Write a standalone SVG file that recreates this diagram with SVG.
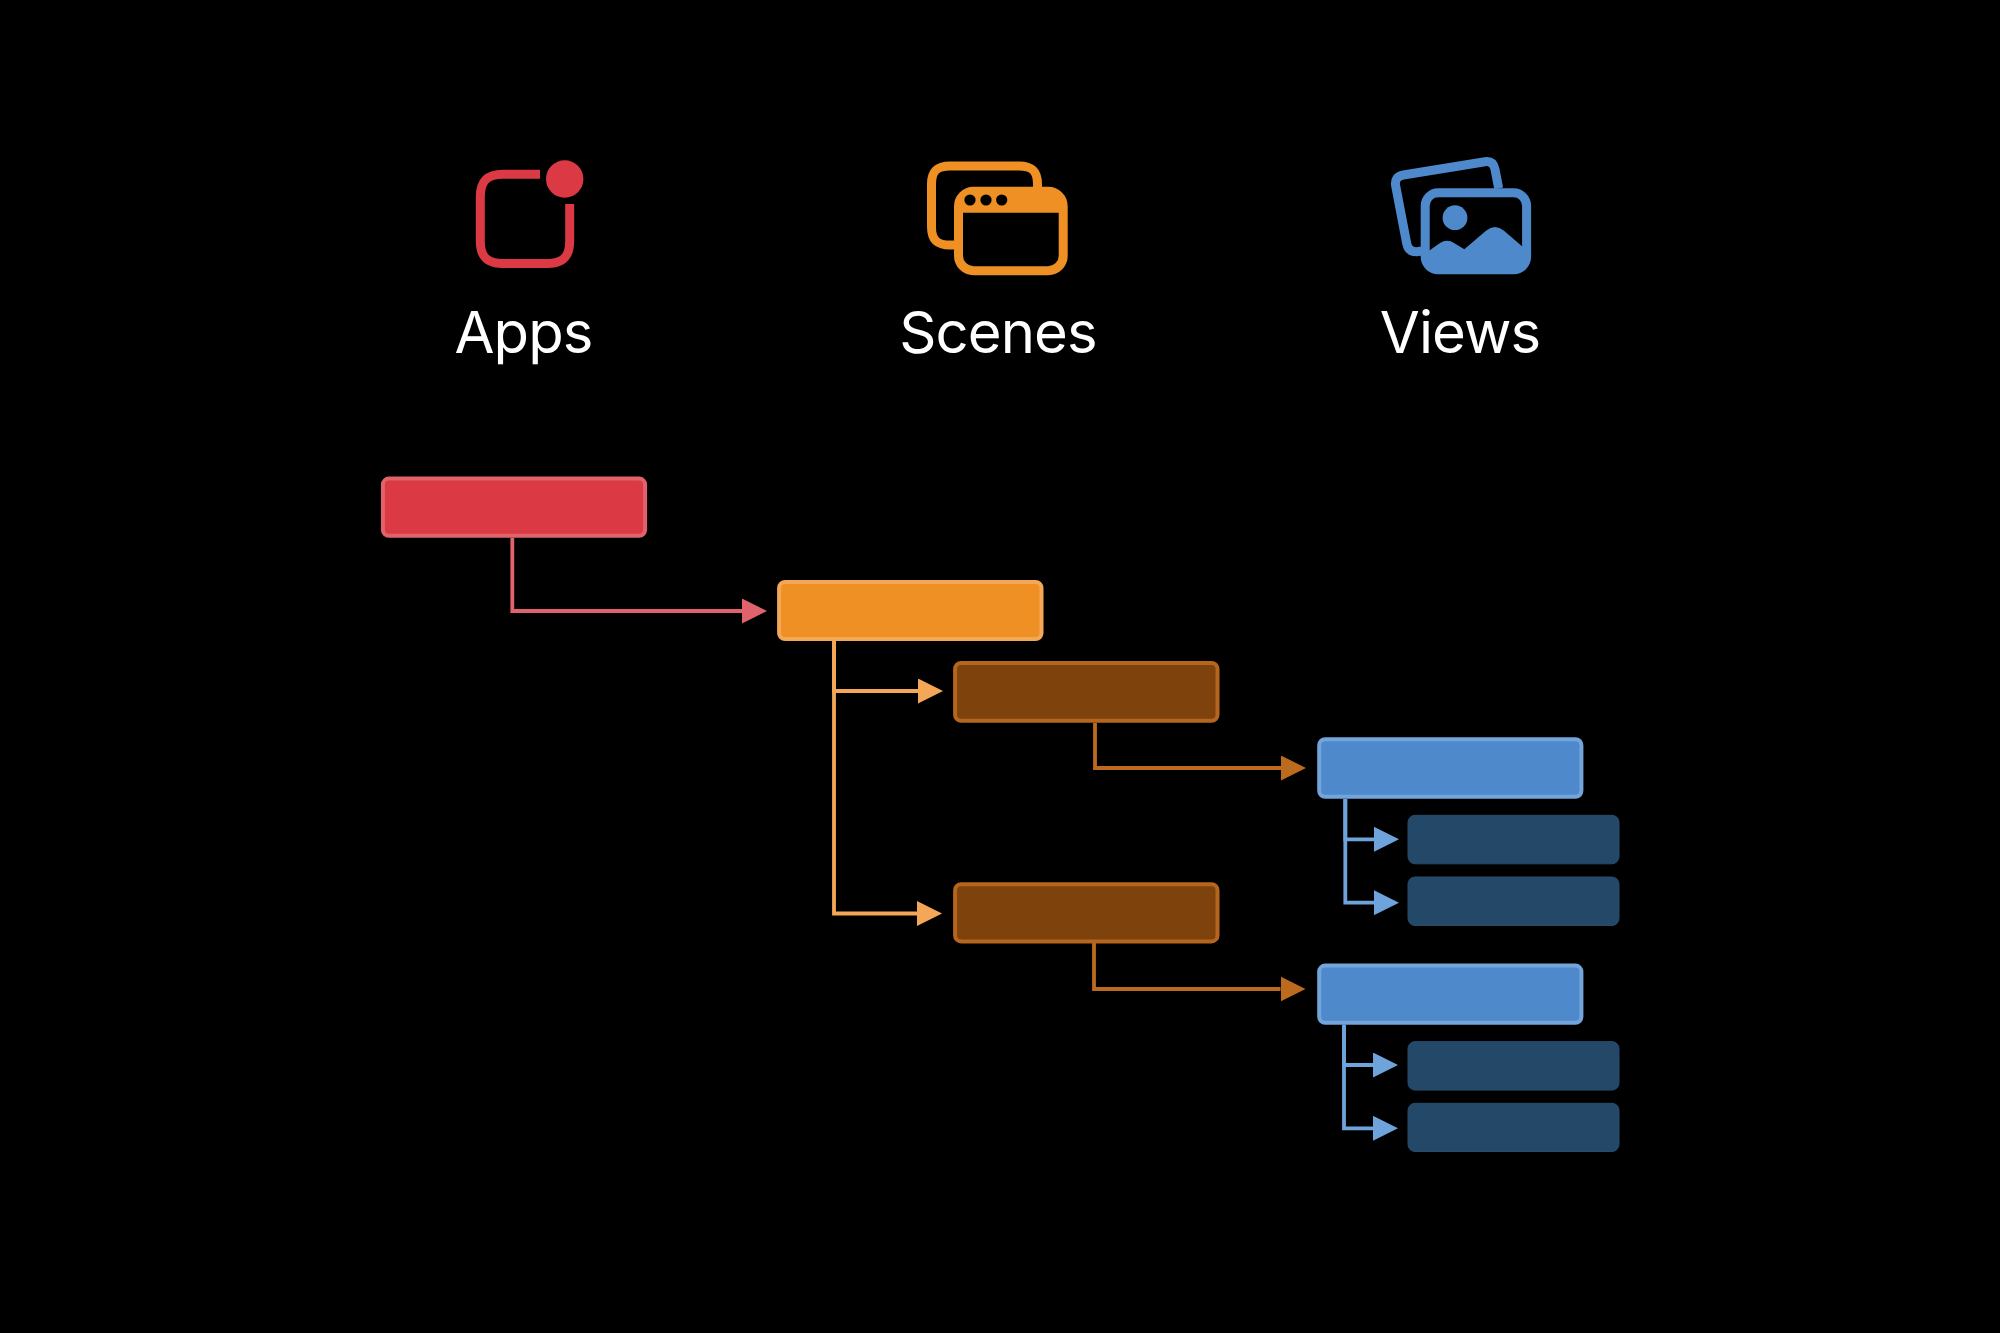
<svg xmlns="http://www.w3.org/2000/svg" width="2000" height="1333" viewBox="0 0 2000 1333">
<style>
.label{font-family:Inter,"Liberation Sans",sans-serif;font-size:58px;font-weight:400;fill:#fff;text-anchor:middle;letter-spacing:-0.9px}
.box{stroke-width:4}
.red{fill:#DB3A45;stroke:#E0636C}
.orange{fill:#EE9023;stroke:#F4A857}
.brown{fill:#7E420D;stroke:#B5651D}
.blue{fill:#4E8ACB;stroke:#74A5DA}
.navy{fill:#244867;stroke:#264B6C}
.c{fill:none;stroke-width:3.8}
.c-red{stroke:#E0636C;marker-end:url(#a-red)}
.c-orange{stroke:#F4A857;marker-end:url(#a-orange)}
.c-brown{stroke:#BC6B1E;marker-end:url(#a-brown)}
.c-blue{stroke:#6FA3DC;marker-end:url(#a-blue)}
</style>
<defs>
<marker id="a-red" markerUnits="userSpaceOnUse" viewBox="0 0 25 25" refX="0" refY="12.5" markerWidth="25" markerHeight="25" orient="auto"><path d="M0,0L25,12.5L0,25Z" fill="#E0636C"/></marker>
<marker id="a-orange" markerUnits="userSpaceOnUse" viewBox="0 0 25 25" refX="0" refY="12.5" markerWidth="25" markerHeight="25" orient="auto"><path d="M0,0L25,12.5L0,25Z" fill="#F4A857"/></marker>
<marker id="a-brown" markerUnits="userSpaceOnUse" viewBox="0 0 25 25" refX="0" refY="12.5" markerWidth="25" markerHeight="25" orient="auto"><path d="M0,0L25,12.5L0,25Z" fill="#BC6B1E"/></marker>
<marker id="a-blue" markerUnits="userSpaceOnUse" viewBox="0 0 25 25" refX="0" refY="12.5" markerWidth="25" markerHeight="25" orient="auto"><path d="M0,0L25,12.5L0,25Z" fill="#6FA3DC"/></marker>
</defs>
<rect width="2000" height="1333" fill="#000"/>
<g id="legend-apps">
<path d="M540,174.300H503C487,174.300 480.300,181 480.300,197V241C480.300,257 487,263.500 503,263.500H547C563,263.500 569.700,257 569.700,241V204" fill="none" stroke="#DB3A45" stroke-width="9"/>
<circle cx="564.700" cy="179" r="18.700" fill="#DB3A45"/>
<text class="label" x="523.500" y="352.700">Apps</text>
</g>
<g id="legend-scenes">
<path d="M1037.500,187V184C1037.500,171 1032,166 1019,166H950C937,166 931.500,171 931.500,184V227C931.500,240 937,245 950,245H958" fill="none" stroke="#EE9023" stroke-width="9"/>
<rect x="958.500" y="191.200" width="104.700" height="79.500" rx="15" fill="#000" stroke="#EE9023" stroke-width="9"/>
<path d="M958,212.700V201Q958,191 968,191H1054Q1064,191 1064,201V212.700Z" fill="#EE9023"/>
<circle cx="970" cy="200" r="5.600" fill="#000"/><circle cx="986" cy="200" r="5.600" fill="#000"/><circle cx="1001.700" cy="200" r="5.600" fill="#000"/>
<text class="label" x="998" y="352.700">Scenes</text>
</g>
<g id="legend-views">
<path d="M1498.700,188.300L1495,169.300Q1493.300,160.700 1485,161.700L1403.300,175Q1394,176.700 1395.700,186L1406.700,243.300Q1408.300,252 1416.700,251.700L1422,251" fill="none" stroke="#4E8ACB" stroke-width="9"/>
<rect x="1425.200" y="192.800" width="101.400" height="77" rx="13" fill="#000" stroke="#4E8ACB" stroke-width="9"/>
<circle cx="1455" cy="217.700" r="12.400" fill="#4E8ACB"/>
<path d="M1428,251.500L1440,243Q1447.300,238.300 1454,243L1464.300,249.300L1486,230.700Q1495,223.500 1504,230.700L1523.500,247.500V262Q1523.500,270 1515,270H1436Q1428,270 1428,262Z" fill="#4E8ACB"/>
<text class="label" x="1460" y="352.700">Views</text>
</g>
<g id="connectors">
<path class="c c-red" d="M512.300,537.700V611H742"/>
<path class="c c-orange" d="M834,641V691H918"/>
<path class="c c-orange" d="M834,641V913.500H917"/>
<path class="c c-brown" d="M1095,723V768H1281"/>
<path class="c c-brown" d="M1094,943V989H1280.500"/>
<path class="c c-blue" d="M1345.300,799V839.300H1374"/>
<path class="c c-blue" d="M1345.300,799V902.700H1374"/>
<path class="c c-blue" d="M1344,1024.700V1065H1373"/>
<path class="c c-blue" d="M1344,1024.700V1128.300H1373"/>
</g>
<g id="node-app"><rect class="box red" x="382.900" y="478.600" width="262.200" height="57.200" rx="6"/></g>
<g id="node-scene"><rect class="box orange" x="779.100" y="581.900" width="262.400" height="57.200" rx="6"/></g>
<g id="node-scene-view-1"><rect class="box brown" x="955.100" y="662.900" width="262.400" height="57.900" rx="6"/></g>
<g id="node-scene-view-2"><rect class="box brown" x="955.100" y="884.200" width="262.400" height="57.200" rx="6"/></g>
<g id="node-view-1"><rect class="box blue" x="1319.200" y="739.200" width="262.200" height="57.600" rx="6"/></g>
<g id="node-view-1a"><rect class="navy" x="1408" y="815.300" width="211" height="48.500" rx="7" stroke-width="1"/></g>
<g id="node-view-1b"><rect class="navy" x="1408" y="877" width="211" height="48.500" rx="7" stroke-width="1"/></g>
<g id="node-view-2"><rect class="box blue" x="1319.200" y="965.600" width="262.200" height="57.200" rx="6"/></g>
<g id="node-view-2a"><rect class="navy" x="1408" y="1041.600" width="211" height="48.500" rx="7" stroke-width="1"/></g>
<g id="node-view-2b"><rect class="navy" x="1408" y="1103.300" width="211" height="48.200" rx="7" stroke-width="1"/></g>
</svg>
